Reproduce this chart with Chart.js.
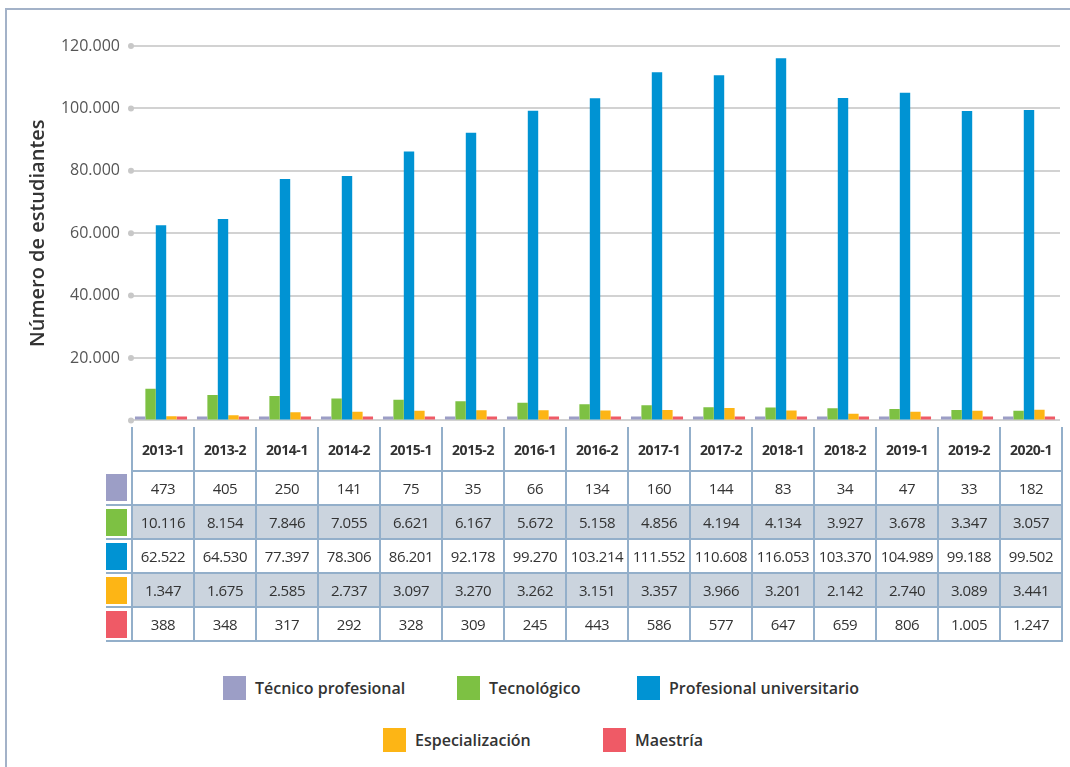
<!DOCTYPE html>
<html>
<head>
<meta charset="utf-8">
<script src="https://cdn.jsdelivr.net/npm/chart.js@4"></script>
<style>
  body { margin: 0; background: #fff; font-family: 'Open Sans', 'Noto Sans', sans-serif; color: #333; }
  #wrap { position: relative; width: 1070px; height: 767px; overflow: hidden; }
  #frame { position: absolute; left: 5px; top: 8px; width: 1080px; height: 780px; border-top: 2px solid #a3b2c8; border-left: 2px solid #a3b2c8; }
  #chartBox { position: absolute; left: 0; top: 0; width: 1070px; height: 440px; }
  #dataTable { position: absolute; left: 106px; top: 427px; border-collapse: collapse; font-size: 15px; letter-spacing: -0.4px; }
  #dataTable td, #dataTable th { width: 60px; padding: 0; text-align: center; border: 2px solid #93afca; }
  #dataTable th { height: 41px; font-weight: bold; font-size: 14px; border-top: none; padding-top: 2px; }
  #dataTable td { height: 32px; }
  #dataTable tr.shade td.val { background: #cbd4de; }
  #dataTable .key { width: 21px; border: none; border-bottom: 2px solid #93afca; padding: 0 4px 0 0; }
  #dataTable th.key { border: none; }
  #dataTable .key div { width: 21px; height: 27px; }
  .leg { position: absolute; font-family: 'Open Sans', sans-serif; font-size: 16px; font-weight: 600; color: #333; display: flex; align-items: center; height: 24px; }
  .leg span { display: inline-block; width: 23px; height: 24px; margin-right: 9px; }
</style>
</head>
<body>
<div id="wrap">
  <div id="frame"></div>
  <div id="chartBox"><canvas id="chart" width="1070" height="440"></canvas></div>
  <table id="dataTable"></table>
  <div id="legend"></div>
</div>
<script>
// Periods (categories)
const periods = ['2013-1', '2013-2', '2014-1', '2014-2', '2015-1', '2015-2', '2016-1', '2016-2',
                 '2017-1', '2017-2', '2018-1', '2018-2', '2019-1', '2019-2', '2020-1'];

// Students by level of education
const tecnicoProfesional = [473, 405, 250, 141, 75, 35, 66, 134, 160, 144, 83, 34, 47, 33, 182];
const tecnologico = [10116, 8154, 7846, 7055, 6621, 6167, 5672, 5158, 4856, 4194, 4134, 3927, 3678, 3347, 3057];
const profesionalUniversitario = [62522, 64530, 77397, 78306, 86201, 92178, 99270, 103214, 111552, 110608, 116053, 103370, 104989, 99188, 99502];
const especializacion = [1347, 1675, 2585, 2737, 3097, 3270, 3262, 3151, 3357, 3966, 3201, 2142, 2740, 3089, 3441];
const maestria = [388, 348, 317, 292, 328, 309, 245, 443, 586, 577, 647, 659, 806, 1005, 1247];

const seriesNames = ['Técnico profesional', 'Tecnológico', 'Profesional universitario', 'Especialización', 'Maestría'];
const seriesColors = ['#9c9ec6', '#7dc143', '#0093d3', '#fdb515', '#ef5a66'];
const seriesValues = [tecnicoProfesional, tecnologico, profesionalUniversitario, especializacion, maestria];

// Y axis ticks
const yMax = 120000;
const yStep = 20000;

// format numbers with dots as thousands separator
function fmt(n) {
    return String(n).replace(/\B(?=(\d{3})+(?!\d))/g, '.');
}

// small dots at the start of each grid line
const tickDots = {
    id: 'tickDots',
    afterDraw(chart) {
        const { ctx, chartArea, scales } = chart;
        ctx.save();
        ctx.fillStyle = '#c8c8c8';
        scales.y.ticks.forEach(t => {
            const y = scales.y.getPixelForValue(t.value);
            ctx.beginPath();
            ctx.arc(chartArea.left + 1, y, 3, 0, Math.PI * 2);
            ctx.fill();
        });
        ctx.restore();
    }
};

new Chart(document.getElementById('chart').getContext('2d'), {
    type: 'bar',
    data: {
        labels: periods,
        datasets: seriesValues.map((vals, i) => ({
            label: seriesNames[i],
            data: vals,
            backgroundColor: seriesColors[i],
            minBarLength: 4,
            categoryPercentage: 0.84,
            barPercentage: 1
        }))
    },
    options: {
        responsive: false,
        animation: false,
        layout: { padding: { left: 26, right: 10, top: 46, bottom: 11 } },
        plugins: { legend: { display: false }, tooltip: { enabled: false } },
        scales: {
            x: {
                grid: { display: false },
                border: { display: false },
                ticks: { display: false }
            },
            y: {
                min: 0,
                max: yMax,
                afterFit: s => { s.width = 104; },
                ticks: {
                    stepSize: yStep,
                    padding: 10,
                    color: '#555',
                    font: { family: "'Open Sans', sans-serif", size: 16 },
                    callback: v => v === 0 ? '' : fmt(v)
                },
                grid: { color: '#d2d2d2', lineWidth: 2, drawTicks: false },
                border: { display: false },
                title: {
                    display: true,
                    text: 'Número de estudiantes',
                    color: '#333',
                    font: { family: "'Open Sans', sans-serif", size: 20, weight: '600' },
                    padding: 0
                }
            }
        }
    },
    plugins: [tickDots]
});

// data table
const table = document.getElementById('dataTable');
let html = '<tr><th class="key"></th>' + periods.map(p => `<th>${p}</th>`).join('') + '</tr>';
seriesValues.forEach((vals, i) => {
    html += `<tr class="${i % 2 === 1 ? 'shade' : ''}"><td class="key"><div style="background:${seriesColors[i]}"></div></td>` +
        vals.map(v => `<td class="val">${fmt(v)}</td>`).join('') + '</tr>';
});
table.innerHTML = html;

// legend in two rows
const legendPos = [[223, 676], [457, 676], [637, 676], [383, 728], [603, 728]];
document.getElementById('legend').innerHTML = seriesNames.map((name, i) =>
    `<div class="leg" style="left:${legendPos[i][0]}px;top:${legendPos[i][1]}px"><span style="background:${seriesColors[i]}"></span>${name}</div>`
).join('');
</script>
</body>
</html>
